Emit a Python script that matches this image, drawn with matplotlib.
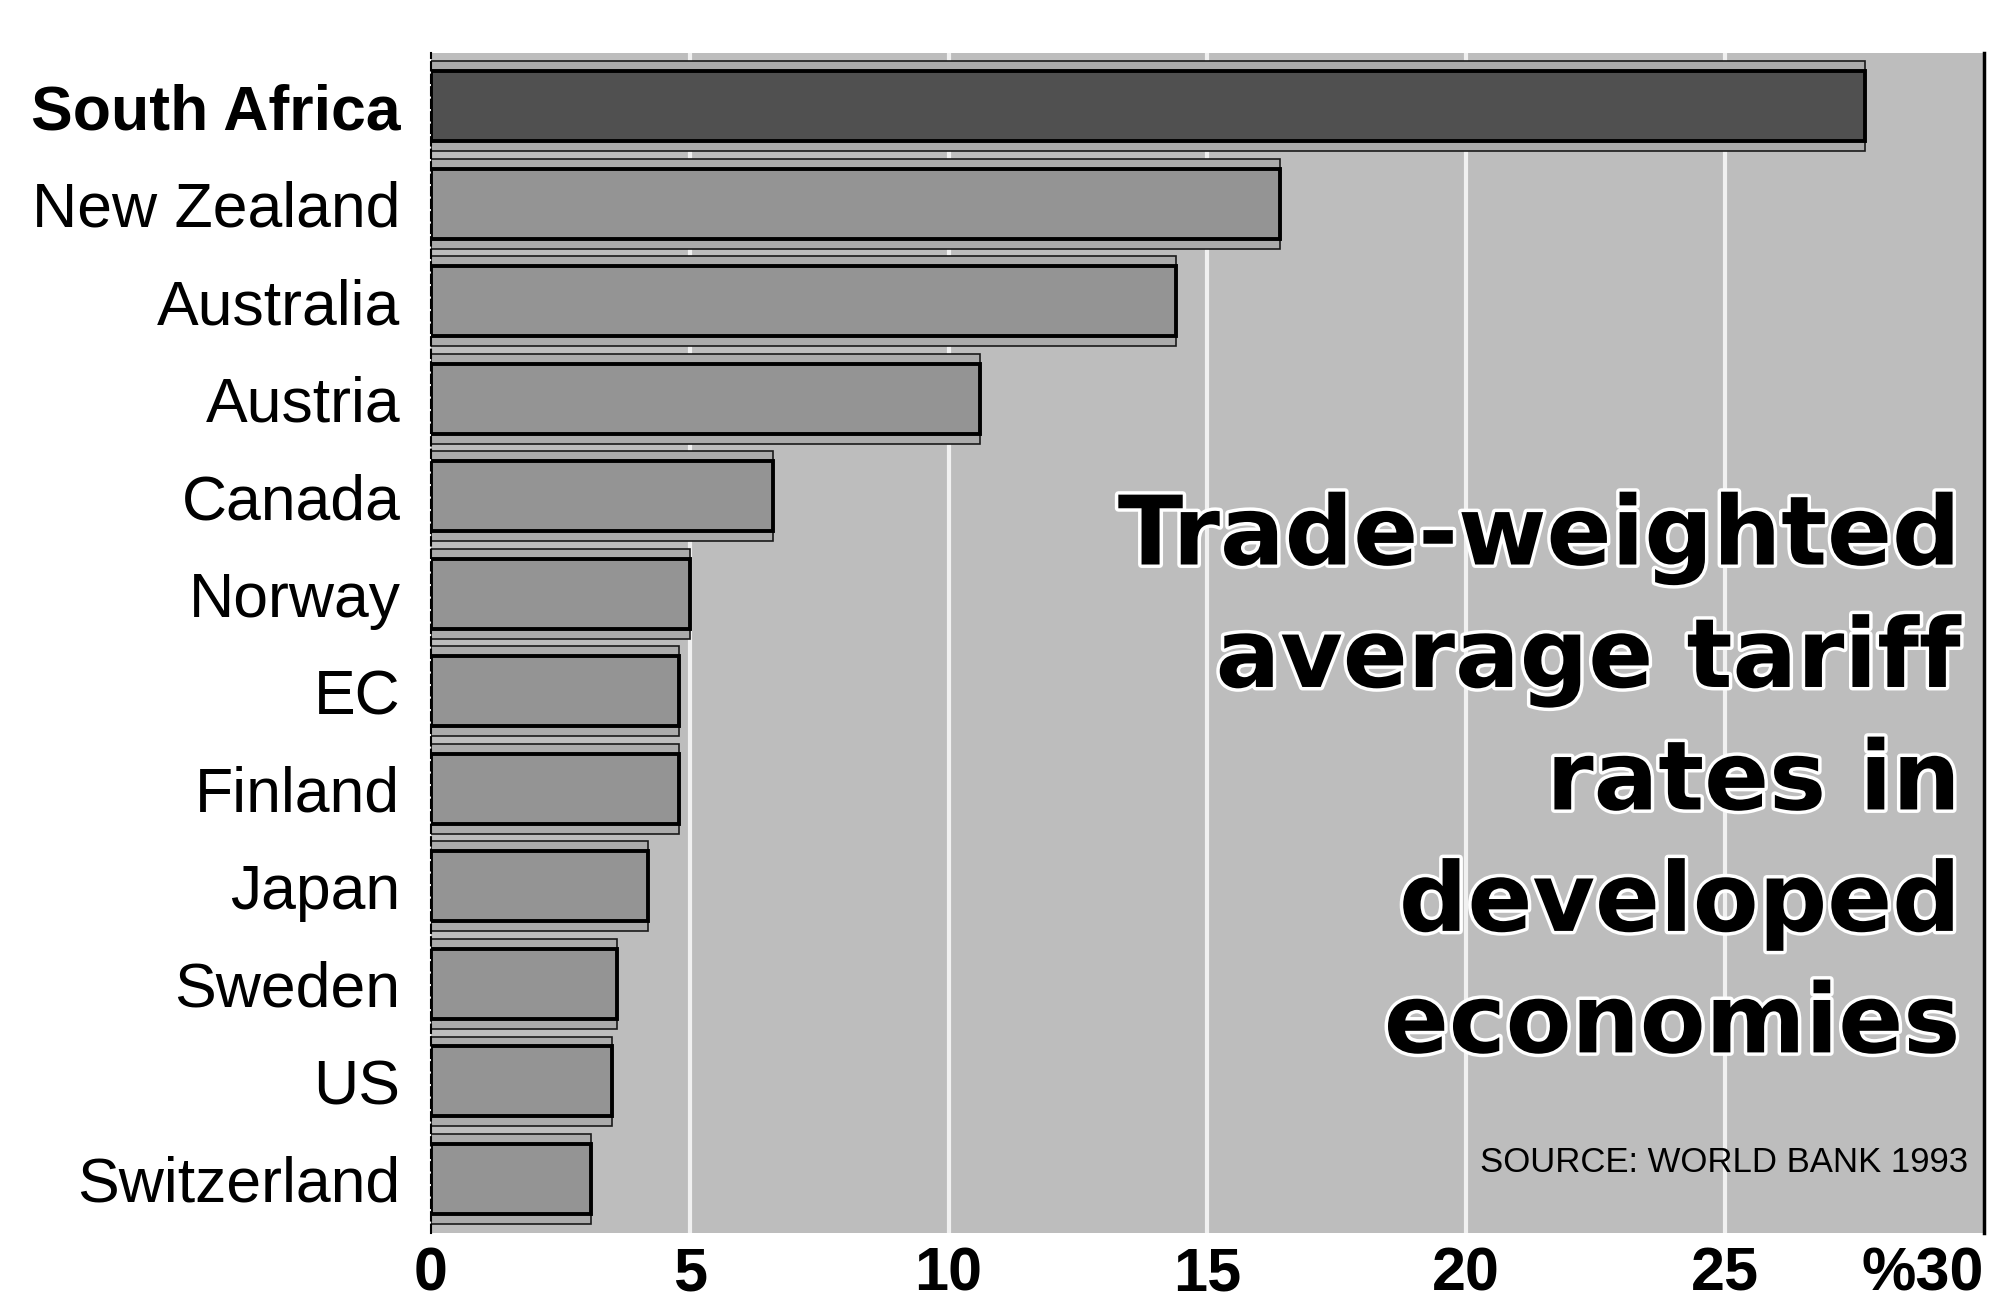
import numpy as np
import matplotlib
matplotlib.use("Agg")
import matplotlib.pyplot as plt
import matplotlib.patheffects as pe

# Data
countries = ["South Africa", "New Zealand", "Australia", "Austria", "Canada",
             "Norway", "EC", "Finland", "Japan", "Sweden", "US", "Switzerland"]
tariffs = [27.7, 16.4, 14.4, 10.6, 6.6, 5.0, 4.8, 4.8, 4.2, 3.6, 3.5, 3.1]
xticks = [0, 5, 10, 15, 20, 25, 30]
xticklabels = ["0", "5", "10", "15", "20", "25", "%30"]

title = "Trade-weighted\naverage tariff\nrates in\ndeveloped\neconomies"
source = "SOURCE: WORLD BANK 1993"

narrow = ["Liberation Sans", "DejaVu Sans"]

fig = plt.figure(figsize=(20.14, 13.14), dpi=100)
ax = fig.add_axes([0.214, 0.062, 0.771, 0.898])

bg = "#bdbdbd"
ax.set_facecolor(bg)
ax.set_xlim(0, 30)
y = np.arange(len(countries))
ax.set_ylim(len(countries) - 0.45, -0.55)

# white gridlines
for t in xticks[1:-1]:
    ax.axvline(t, color="white", lw=3, alpha=0.8, zorder=1)

fills = ["#505050"] + ["#949494"] * (len(countries) - 1)
# outer frame band behind each bar
ax.barh(y, tariffs, height=0.92, left=0, color="#ababab",
        edgecolor="#1a1a1a", lw=1.2, zorder=2)
ax.barh(y, tariffs, height=0.72, left=0, color=fills,
        edgecolor="black", lw=2.8, zorder=3)

# axis spines
for s in ["top", "bottom"]:
    ax.spines[s].set_visible(False)
ax.spines["left"].set_linestyle((0, (4, 2)))
ax.spines["left"].set_linewidth(1.5)
ax.spines["right"].set_linewidth(2.5)

ax.set_yticks(y)
ax.set_yticklabels(countries)
for lab, name in zip(ax.get_yticklabels(), countries):
    lab.set_family(narrow)
    lab.set_fontsize(45)
    if name == "South Africa":
        lab.set_fontweight("bold")
ax.tick_params(axis="y", length=0, pad=22)

ax.set_xticks(xticks)
ax.set_xticklabels(xticklabels, family=narrow, fontsize=44, fontweight="bold")
ax.tick_params(axis="x", length=0, pad=10)
ax.get_xticklabels()[-1].set_horizontalalignment("right")

ax.text(0.985, 0.628, title, transform=ax.transAxes, ha="right", va="top",
        fontsize=69, fontweight="heavy", color="black", linespacing=1.39,
        multialignment="right", zorder=5,
        path_effects=[pe.withStroke(linewidth=5, foreground="white")])

ax.text(0.99, 0.045, source, transform=ax.transAxes, ha="right", va="bottom",
        fontsize=25, family=narrow, color="black", zorder=5)

fig.savefig("out.png", dpi=100)
